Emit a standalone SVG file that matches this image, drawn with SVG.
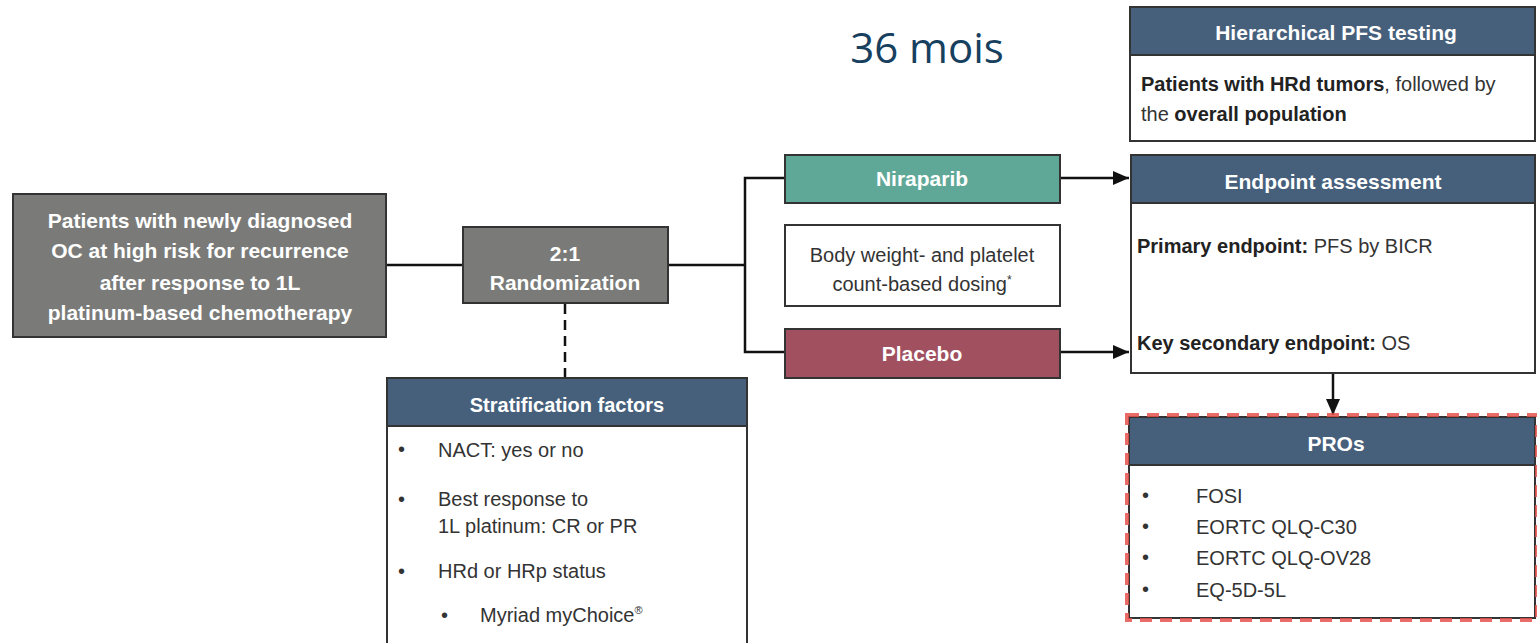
<svg xmlns="http://www.w3.org/2000/svg" width="1537" height="643" viewBox="0 0 1537 643">
<defs>
<marker id="ah" viewBox="0 0 16 14" refX="16" refY="7" markerWidth="16" markerHeight="14" markerUnits="userSpaceOnUse" orient="auto"><path d="M0,0 L16,7 L0,14 z" fill="#111"/></marker>
<style>
.grey{fill:#7a7b79;stroke:#333;stroke-width:2}
.box{fill:#fff;stroke:#333;stroke-width:2}
.hdr{fill:#46607c;stroke:#333;stroke-width:2}
.wb{font-family:"Liberation Sans",Arial,sans-serif;font-weight:bold;fill:#fff;text-anchor:middle}
.t{font-family:"Liberation Sans",Arial,sans-serif;fill:#333;font-size:20px}
.b{font-weight:bold;fill:#222}
.ln{fill:none;stroke:#111;stroke-width:2.5}
</style>
</defs>
<rect width="1537" height="643" fill="#fff"/>
<text x="927" y="63" font-family="'Open Sans','Liberation Sans',sans-serif" font-size="42" fill="#17405f" text-anchor="middle">36 mois</text>

<g id="connectors">
<path class="ln" d="M386,265 H463"/>
<path class="ln" d="M668,265 H745"/>
<path class="ln" d="M785,178 H745 V352 H785"/>
<path class="ln" d="M1060,178 H1129" marker-end="url(#ah)"/>
<path class="ln" d="M1060,352 H1129" marker-end="url(#ah)"/>
<path class="ln" d="M565,304 V377" stroke-dasharray="10,6"/>
<path class="ln" d="M1333,374 V415" marker-end="url(#ah)"/>
</g>

<g id="patients">
<rect class="grey" x="13" y="194" width="373" height="143"/>
<text class="wb" font-size="21" x="200" y="228">Patients with newly diagnosed</text>
<text class="wb" font-size="21" x="200" y="258">OC at high risk for recurrence</text>
<text class="wb" font-size="21" x="200" y="290">after response to 1L</text>
<text class="wb" font-size="21" x="200" y="320">platinum-based chemotherapy</text>
</g>

<g id="randomization">
<rect class="grey" x="463" y="227" width="205" height="76"/>
<text class="wb" font-size="21" x="565" y="261">2:1</text>
<text class="wb" font-size="21" x="565" y="290">Randomization</text>
</g>

<g id="stratification">
<rect class="box" x="387" y="378" width="360" height="275"/>
<rect class="hdr" x="387" y="378" width="360" height="48"/>
<text class="wb" font-size="20" x="567" y="412">Stratification factors</text>
<text class="t" x="398" y="456" font-size="12">•</text>
<text class="t" x="438" y="457">NACT: yes or no</text>
<text class="t" x="398" y="506" font-size="12">•</text>
<text class="t" x="438" y="506">Best response to</text>
<text class="t" x="438" y="533">1L platinum: CR or PR</text>
<text class="t" x="398" y="578" font-size="12">•</text>
<text class="t" x="438" y="578">HRd or HRp status</text>
<text class="t" x="441" y="622" font-size="12">•</text>
<text class="t" x="480" y="622">Myriad myChoice<tspan font-size="11" dy="-8">®</tspan></text>
</g>

<g id="niraparib">
<rect x="785" y="155" width="275" height="48" fill="#5fa897" stroke="#333" stroke-width="2"/>
<text class="wb" font-size="21" x="922" y="186">Niraparib</text>
</g>

<g id="dosing">
<rect class="box" x="785" y="225" width="275" height="81"/>
<text class="t" x="922" y="262" text-anchor="middle">Body weight- and platelet</text>
<text class="t" x="922" y="291" text-anchor="middle">count-based dosing<tspan font-size="12" dy="-7">*</tspan></text>
</g>

<g id="placebo">
<rect x="785" y="329" width="275" height="49" fill="#a0505f" stroke="#333" stroke-width="2"/>
<text class="wb" font-size="21" x="922" y="361">Placebo</text>
</g>

<g id="hierarchical">
<rect class="box" x="1130" y="7" width="405" height="134"/>
<rect class="hdr" x="1130" y="7" width="405" height="48"/>
<text class="wb" font-size="21" x="1336" y="40">Hierarchical PFS testing</text>
<text class="t" x="1141" y="91"><tspan class="b">Patients with HRd tumors</tspan>, followed by</text>
<text class="t" x="1141" y="121">the <tspan class="b">overall population</tspan></text>
</g>

<g id="endpoint">
<rect class="box" x="1131" y="155" width="404" height="218"/>
<rect class="hdr" x="1131" y="155" width="404" height="48"/>
<text class="wb" font-size="21" x="1333" y="189">Endpoint assessment</text>
<text class="t" x="1137" y="253"><tspan class="b">Primary endpoint:</tspan> PFS by BICR</text>
<text class="t" x="1137" y="350"><tspan class="b">Key secondary endpoint:</tspan> OS</text>
</g>

<g id="pros">
<rect class="box" x="1129" y="417" width="406" height="201"/>
<rect class="hdr" x="1129" y="417" width="406" height="48"/>
<rect x="1127" y="415" width="410" height="205" fill="none" stroke="#e5524f" stroke-width="4" stroke-dasharray="12,8" opacity="0.85"/>
<text class="wb" font-size="21" x="1336" y="451">PROs</text>
<text class="t" x="1142" y="502" font-size="12">•</text>
<text class="t" x="1196" y="503">FOSI</text>
<text class="t" x="1142" y="533" font-size="12">•</text>
<text class="t" x="1196" y="534">EORTC QLQ-C30</text>
<text class="t" x="1142" y="564" font-size="12">•</text>
<text class="t" x="1196" y="565">EORTC QLQ-OV28</text>
<text class="t" x="1142" y="596" font-size="12">•</text>
<text class="t" x="1196" y="597">EQ-5D-5L</text>
</g>
</svg>
